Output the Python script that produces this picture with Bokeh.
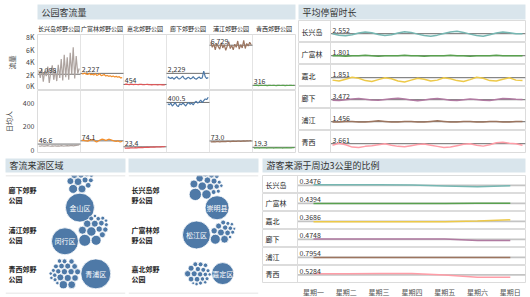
import math
from bokeh.plotting import figure
from bokeh.layouts import row, column
from bokeh.models import Range1d, Label, LinearAxis, FixedTicker, Grid, Span
from bokeh.core.properties import value
from bokeh.embed import file_html
from bokeh.resources import INLINE

# ---------------- data ----------------
parks = ["长兴岛郊野公园", "广富林郊野公园", "嘉北郊野公园", "廊下郊野公园", "浦江郊野公园", "青西郊野公园"]
short_names = ["长兴岛", "广富林", "嘉北", "廊下", "浦江", "青西"]

flow_chx = [2700, 1500, 3000, 900, 2600, 1800, 3300, 700, 2400, 3500, 1200, 2800, 1000, 3600,
            1500, 4500, 1100, 5200, 1600, 4800, 1200, 5500, 2000, 6400, 1400, 5000, 2200, 3000]
flow_gfl = [2200, 2150, 2300, 2100, 2050, 2250, 2000, 2100, 1950, 2200, 1900, 2000, 2150, 1850,
            1950, 2050, 1800, 1900, 1750, 1850, 1700, 1800, 1650, 1750, 1600, 1700, 1500, 1550]
flow_jb = [480, 520, 460, 430, 500, 470, 440, 490, 450, 420, 460, 480, 430, 410,
           450, 470, 420, 440, 400, 430, 450, 410, 390, 420, 440, 400, 380, 410]
flow_lx = [1700, 1500, 1400, 1600, 1300, 1500, 1700, 1400, 1350, 1550, 1800, 1400, 1300, 1500,
           1600, 1350, 1450, 1700, 1400, 1300, 1500, 1650, 1400, 1500, 2600, 1700, 1400, 1550]
flow_pj = [7200, 6400, 6900, 6000, 7000, 6500, 6100, 7100, 6300, 6800, 5900, 6600, 7300, 6200,
           6700, 6000, 6900, 6400, 7400, 6100, 6800, 6300, 7500, 6200, 7000, 6600, 7200, 6800]
flow_qx = [320, 300, 340, 280, 310, 330, 290, 300, 320, 280, 310, 300, 290, 330,
           300, 280, 310, 320, 290, 300, 310, 280, 300, 290, 310, 300, 290, 300]
flow_labels = [2088, 2227, 454, 2229, 6729, 316]
flow_ticks = [0, 2000, 4000, 6000, 8000]
flow_tick_labels = ["0K", "2K", "4K", "6K", "8K"]

daily_chx = [30, 28, 32, 30, 29, 31, 33, 30, 28, 31, 30, 32, 29, 31,
             30, 33, 31, 30, 32, 34, 31, 33, 35, 32, 34, 36, 38, 40]
daily_gfl = [78, 80, 76, 74, 72, 78, 82, 85, 80, 70, 65, 72, 80, 86,
             88, 84, 78, 82, 88, 85, 80, 76, 72, 70, 74, 68, 66, 70]
daily_jb = [12, 11, 13, 12, 14, 15, 13, 16, 15, 17, 16, 18, 17, 19,
            18, 20, 19, 21, 20, 22, 21, 23, 22, 24, 23, 25, 24, 26]
daily_lx = [390, 380, 395, 370, 385, 400, 375, 365, 390, 380, 395, 385, 370, 390,
            400, 385, 395, 380, 400, 410, 395, 405, 420, 400, 415, 430, 425, 445]
daily_pj = [66, 65, 67, 66, 68, 67, 66, 68, 69, 67, 68, 70, 69, 68,
            70, 71, 69, 70, 72, 71, 70, 72, 73, 72, 74, 73, 75, 76]
daily_qx = [14, 13, 15, 14, 13, 15, 14, 16, 14, 13, 15, 14, 15, 13,
            14, 16, 15, 14, 15, 13, 14, 15, 16, 14, 15, 14, 16, 17]
daily_labels = [46.6, 74.1, 23.4, 400.5, 73.0, 19.3]
daily_ticks = [0, 200, 400]

stay_chx = [2.55, 2.51, 2.49, 2.52, 2.57, 2.60, 2.58, 2.53, 2.50, 2.52, 2.57, 2.61, 2.59, 2.54, 2.50,
            2.48, 2.51, 2.56, 2.60, 2.62, 2.59, 2.54, 2.50, 2.48, 2.52, 2.57, 2.60, 2.58, 2.55, 2.55]
stay_gfl = [1.80, 1.80, 1.79, 1.80, 1.80, 1.81, 1.80, 1.79, 1.80, 1.80, 1.80, 1.81, 1.80, 1.80, 1.79,
            1.80, 1.80, 1.80, 1.81, 1.80, 1.80, 1.79, 1.80, 1.80, 1.80, 1.81, 1.80, 1.80, 1.80, 1.80]
stay_jb = [1.80, 1.78, 1.82, 1.86, 1.84, 1.79, 1.77, 1.81, 1.85, 1.83, 1.78, 1.76, 1.80, 1.84, 1.82,
           1.78, 1.80, 1.85, 1.83, 1.79, 1.77, 1.81, 1.86, 1.84, 1.79, 1.78, 1.82, 1.85, 1.80, 1.79]
stay_lx = [3.45, 3.44, 3.47, 3.50, 3.52, 3.49, 3.46, 3.45, 3.48, 3.51, 3.53, 3.50, 3.46, 3.43, 3.46,
           3.50, 3.52, 3.49, 3.45, 3.44, 3.47, 3.50, 3.48, 3.45, 3.44, 3.48, 3.52, 3.51, 3.49, 3.48]
stay_pj = [1.45, 1.45, 1.46, 1.46, 1.45, 1.45, 1.46, 1.47, 1.46, 1.45, 1.45, 1.46, 1.46, 1.45, 1.45,
           1.46, 1.47, 1.46, 1.45, 1.45, 1.46, 1.46, 1.45, 1.45, 1.46, 1.46, 1.45, 1.45, 1.46, 1.46]
stay_qx = [3.60, 3.68, 3.62, 3.52, 3.50, 3.55, 3.58, 3.62, 3.66, 3.60, 3.55, 3.53, 3.58, 3.63, 3.65,
           3.60, 3.55, 3.50, 3.52, 3.58, 3.64, 3.66, 3.60, 3.56, 3.62, 3.70, 3.72, 3.68, 3.66, 3.60]
stay_labels = [2.552, 1.801, 1.851, 3.472, 1.456, 3.661]

weekdays = ["星期一", "星期二", "星期三", "星期四", "星期五", "星期六", "星期日"]
ratio_chx = [0.3476, 0.3470, 0.3468, 0.3455, 0.3390, 0.3330, 0.3400]
ratio_gfl = [0.4394, 0.4396, 0.4398, 0.4400, 0.4402, 0.4404, 0.4405]
ratio_jb = [0.3686, 0.3688, 0.3690, 0.3692, 0.3700, 0.3760, 0.3840]
ratio_lx = [0.4748, 0.4746, 0.4744, 0.4740, 0.4730, 0.4600, 0.4590]
ratio_pj = [0.7954, 0.7950, 0.7952, 0.7948, 0.7951, 0.7953, 0.7950]
ratio_qx = [0.5284, 0.5270, 0.5300, 0.5320, 0.5150, 0.4900, 0.4880]

bubble_parks_left = ["廊下郊野公园", "浦江郊野公园", "青西郊野公园"]
bubble_parks_right = ["长兴岛郊野公园", "广富林郊野公园", "嘉北郊野公园"]
main_district_left = ["金山区", "闵行区", "青浦区"]
main_district_right = ["崇明县", "松江区", "嘉定区"]
main_visitors_left = [2100, 1820, 2250]
main_visitors_right = [1440, 1960, 1210]
other_visitors_left = [
    [200, 160, 150, 120, 110, 90, 90, 80, 60, 60, 50, 40, 40, 30],
    [360, 250, 220, 160, 140, 120, 100, 90, 80, 70, 60, 50, 40, 40, 30, 30],
    [170, 150, 130, 120, 110, 100, 100, 90, 90, 80, 80, 70, 70, 60, 60, 50, 50, 40, 40, 30, 30, 30],
]
other_visitors_right = [
    [380, 220, 180, 160, 140, 120, 110, 100, 90, 80, 70, 60, 50, 40, 40, 30],
    [250, 150, 120, 100, 90, 80, 70, 60, 50, 40, 40, 30, 30, 20],
    [100, 90, 90, 80, 80, 70, 70, 60, 60, 60, 50, 50, 50, 40, 40, 40, 30, 30, 30, 20],
]

# ---------------- style ----------------
FONT = "Noto Sans CJK SC"
HEADER_BG = "#D9E5EC"
BORDER = "#DCDCDC"
TEXT = "#333333"
P1_COLORS = ["#ADA39F", "#F28E2B", "#E15759", "#4E79A7", "#9C755F", "#59A14F"]
P2_COLORS = ["#76B7B2", "#59A14F", "#EDC948", "#B07AA1", "#9C755F", "#FF9DA7"]
BUBBLE = "#4E79A7"
# direction (degrees) from the main bubble towards the cluster of smaller bubbles
cluster_side_left = [90, 20, 180]
cluster_side_right = [120, 5, 180]


def bare(w, h, xr, yr, ml=0, mr=0, mt=0, mb=0):
    p = figure(width=w, height=h, x_range=xr, y_range=yr, output_backend="svg",
               toolbar_location=None, x_axis_location=None, y_axis_location=None,
               title=None, min_border=0, min_border_left=ml, min_border_right=mr,
               min_border_top=mt, min_border_bottom=mb)
    p.grid.visible = False
    p.outline_line_color = None
    p.background_fill_color = "white"
    p.border_fill_color = "white"
    return p


def header(w, text, ml, mr, mt, mb, band):
    p = bare(w, mt + band + mb, Range1d(0, 1), Range1d(0, 1), ml, mr, mt, mb)
    p.background_fill_color = HEADER_BG
    if text:
        p.add_layout(Label(x=0, y=0.5, text=text, x_offset=4, text_align="left",
                           text_baseline="middle", text_font=FONT, text_font_size="9px",
                           text_color=TEXT))
    return p


def style_axis(ax, size="7px", color="#444444"):
    ax.axis_line_color = None
    ax.major_tick_line_color = None
    ax.minor_tick_line_color = None
    ax.major_tick_in = 0
    ax.major_tick_out = 0
    ax.minor_tick_in = 0
    ax.minor_tick_out = 0
    ax.major_label_text_font = FONT
    ax.major_label_text_font_size = size
    ax.major_label_text_color = color
    ax.axis_label_text_font = FONT
    ax.axis_label_text_font_size = size
    ax.axis_label_text_font_style = "normal"
    ax.axis_label_text_color = color
    ax.major_label_standoff = 3
    ax.axis_label_standoff = 6


def txt(p, x, y, s, size="7px", color=TEXT, align="left", baseline="bottom", xo=0, yo=0,
        style="normal"):
    p.text(x=x, y=y, text=s, text_font=value(FONT), text_font_size=size, text_color=color,
           text_align=align, text_baseline=baseline, x_offset=xo, y_offset=yo,
           text_font_style=style)


# ---------------- panel 1: 公园客流量 ----------------
P1W = 297
h1 = header(P1W, "公园客流量", 3, 2, 4, 1, 15)


def col_positions(i, n):
    return [i + 0.03 + 0.94 * j / (n - 1) for j in range(n)]


def small_multiples(p, series, labels, fmt):
    n_cols = len(series)
    p.add_layout(Grid(dimension=0, ticker=FixedTicker(ticks=list(range(1, n_cols))),
                      grid_line_color="#E4E4E4"))
    for i, (vals, lab) in enumerate(zip(series, labels)):
        p.segment(x0=[i], y0=[lab], x1=[i + 1], y1=[lab], line_color="#707070", line_width=1)
        p.line(col_positions(i, len(vals)), vals, line_color=P1_COLORS[i], line_width=1.2)
        txt(p, [i + 0.03], [lab], [fmt(lab)], yo=-1)
    p.outline_line_color = BORDER


f1 = bare(P1W, 70, Range1d(0, len(parks)), Range1d(-510, 8440), ml=32, mr=2, mt=9, mb=0)
small_multiples(f1, [flow_chx, flow_gfl, flow_jb, flow_lx, flow_pj, flow_qx], flow_labels,
                lambda v: f"{v:,.0f}")
ax = LinearAxis(ticker=FixedTicker(ticks=flow_ticks),
                major_label_overrides={t: l for t, l in zip(flow_ticks, flow_tick_labels)},
                axis_label="流量")
style_axis(ax)
f1.add_layout(ax, "left")
top_ax = LinearAxis(ticker=FixedTicker(ticks=[i + 0.5 for i in range(len(parks))]),
                    major_label_overrides={i + 0.5: n for i, n in enumerate(parks)})
style_axis(top_ax, size="6px", color="#222222")
top_ax.major_label_standoff = 2
f1.add_layout(top_ax, "above")

f2 = bare(P1W, 65, Range1d(0, len(parks)), Range1d(-25, 502), ml=32, mr=2, mt=0, mb=3)
small_multiples(f2, [daily_chx, daily_gfl, daily_jb, daily_lx, daily_pj, daily_qx], daily_labels,
                lambda v: f"{v:.1f}")
ax2 = LinearAxis(ticker=FixedTicker(ticks=daily_ticks),
                 major_label_overrides={t: str(t) for t in daily_ticks}, axis_label="日均人")
style_axis(ax2)
f2.add_layout(ax2, "left")

panel1 = column(h1, f1, f2)

# ---------------- panel 2: 平均停留时长 ----------------
P2W = 233
h2 = header(P2W, "平均停留时长", 1, 5, 4, 1, 15)
stay_series = [stay_chx, stay_gfl, stay_jb, stay_lx, stay_pj, stay_qx]
N2 = len(stay_chx)
FR_L, FIRST, LAST, FR_R, SEP = 298, 332, 522, 525, 330
dx2 = (LAST - FIRST) / (N2 - 1)
x2s, x2e, x2sep = -(FIRST - FR_L) / dx2, (N2 - 1) + (FR_R - LAST) / dx2, -(FIRST - SEP) / dx2
p2_rows = []
for k, (vals, lab) in enumerate(zip(stay_series, stay_labels)):
    last = k == len(stay_series) - 1
    S = 0.25 * lab
    yr = Range1d(lab - 0.4 * S, lab + 0.6 * S)
    p = bare(P2W, 25 if last else 22, Range1d(x2s, x2e), yr, ml=1, mr=5, mt=0, mb=3 if last else 0)
    p.outline_line_color = BORDER
    p.add_layout(Span(location=x2sep, dimension="height", line_color=BORDER, line_width=1))
    p.segment(x0=[x2sep], y0=[lab], x1=[x2e], y1=[lab], line_color="#6B6B6B", line_width=1)
    p.line(list(range(N2)), vals, line_color=P2_COLORS[k], line_width=1.5)
    txt(p, [0], [lab], [f"{lab:.3f}"], yo=-1)
    txt(p, [x2s], [(yr.start + yr.end) / 2], [short_names[k]], baseline="middle", xo=3,
        color="#222222")
    p2_rows.append(p)
panel2 = column(h2, *p2_rows)

top_row = row(panel1, panel2)

# ---------------- panel 3: 客流来源区域 ----------------
GAP = 0.35
BUBBLE_SCALE = 0.316


def pack_cluster(radii):
    """Greedy packing of circles around the centroid of those already placed."""
    if not radii:
        return []
    pos = [(0.0, 0.0)]
    if len(radii) > 1:
        pos.append((radii[0] + radii[1] + GAP, 0.0))
    for i in range(2, len(radii)):
        r = radii[i]
        sx = sum(q[0] for q in pos) / len(pos)
        sy = sum(q[1] for q in pos) / len(pos)
        best, bd = None, 1e18
        for ai in range(len(pos)):
            for bi in range(ai + 1, len(pos)):
                (xa, ya), (xb, yb) = pos[ai], pos[bi]
                da, db = radii[ai] + r + GAP, radii[bi] + r + GAP
                ddx, ddy = xb - xa, yb - ya
                d = math.hypot(ddx, ddy)
                if d == 0 or d > da + db or d < abs(da - db):
                    continue
                aa = (da * da - db * db + d * d) / (2 * d)
                hh = math.sqrt(max(da * da - aa * aa, 0))
                px, py = xa + aa * ddx / d, ya + aa * ddy / d
                for sgn in (1, -1):
                    cx, cy = px - sgn * hh * ddy / d, py + sgn * hh * ddx / d
                    ok = all(math.hypot(cx - pos[m][0], cy - pos[m][1]) >= radii[m] + r + GAP - 1e-6
                             for m in range(len(pos)))
                    if ok:
                        dd = (cx - sx) ** 2 + (cy - sy) ** 2
                        if dd < bd:
                            bd, best = dd, (cx, cy)
        pos.append(best)
    return pos


def place_main(R, cluster_pos, cluster_r, angle_deg):
    """Put the main bubble against the cluster, on the side opposite to angle_deg."""
    ux, uy = math.cos(math.radians(angle_deg)), math.sin(math.radians(angle_deg))
    cx = sum(q[0] * r * r for q, r in zip(cluster_pos, cluster_r)) / sum(r * r for r in cluster_r)
    cy = sum(q[1] * r * r for q, r in zip(cluster_pos, cluster_r)) / sum(r * r for r in cluster_r)
    t_best = 0.0
    for (sx, sy), rs in zip(cluster_pos, cluster_r):
        wx, wy = cx - sx, cy - sy
        wu = wx * ux + wy * uy
        D = R + rs + GAP
        disc = wu * wu - (wx * wx + wy * wy) + D * D
        if disc >= 0:
            t_best = max(t_best, wu + math.sqrt(disc))
    return (cx - t_best * ux, cy - t_best * uy)


def bubble_panel(w, ml, mr, names, mains, main_vals, others, sides):
    W, H = w - ml - mr, 118
    p = bare(w, 124, Range1d(0, W), Range1d(0, H), ml=ml, mr=mr, mt=0, mb=6)
    p.add_layout(Span(location=H, dimension="width", line_color=BORDER, line_width=1.5))
    p.add_layout(Span(location=0, dimension="width", line_color=BORDER, line_width=1.5))
    cell_h = H / len(names)
    for k in range(len(names)):
        R = BUBBLE_SCALE * math.sqrt(main_vals[k])
        small_r = [BUBBLE_SCALE * math.sqrt(v) for v in others[k]]
        cpos = pack_cluster(small_r)
        mpos = place_main(R, cpos, small_r, sides[k])
        pos = [mpos] + cpos
        radii = [R] + small_r
        minx = min(q[0] - r for q, r in zip(pos, radii))
        maxx = max(q[0] + r for q, r in zip(pos, radii))
        miny = min(q[1] - r for q, r in zip(pos, radii))
        maxy = max(q[1] + r for q, r in zip(pos, radii))
        cx, cy = 0.62 * W, H - (k + 0.5) * cell_h
        ox, oy = cx - (minx + maxx) / 2, cy - (miny + maxy) / 2
        xs = [q[0] + ox for q in pos]
        ys = [q[1] + oy for q in pos]
        p.circle(x=xs, y=ys, radius=radii, fill_color=BUBBLE, line_color="white", line_width=0.8)
        txt(p, [xs[0]], [ys[0]], [mains[k]], color="white", align="center", baseline="middle")
        nm = names[k]
        txt(p, [3, 3], [cy, cy], [nm[:4], nm[4:]], baseline="middle", yo=[-5, 5],
            color="#222222", style="bold")
    return p


h3a = header(126, "客流来源区域", 5, 1, 3, 3, 14)
h3b = header(135, "", 2, 3, 3, 3, 14)
b1 = bubble_panel(126, 5, 1, bubble_parks_left, main_district_left, main_visitors_left,
                  other_visitors_left, cluster_side_left)
b2 = bubble_panel(135, 2, 3, bubble_parks_right, main_district_right, main_visitors_right,
                  other_visitors_right, cluster_side_right)
panel3 = row(column(h3a, b1), column(h3b, b2))

# ---------------- panel 4: 周边3公里比例 ----------------
P4W = 269
h4 = header(P4W, "游客来源于周边3公里的比例", 1, 5, 3, 3, 14)
ratio_series = [ratio_chx, ratio_gfl, ratio_jb, ratio_lx, ratio_pj, ratio_qx]
F4L, D0, STEP, F4R, SEP4 = 262, 313, 32.8, 525, 297
x4s = -(D0 - F4L) / STEP
x4e = (len(weekdays) - 1) + (F4R - (D0 + 6 * STEP)) / STEP
x4sep = -(D0 - SEP4) / STEP
p4_rows = []
for k, vals in enumerate(ratio_series):
    last = k == len(ratio_series) - 1
    mean = sum(vals) / len(vals)
    S = 0.37 * mean
    yr = Range1d(mean - 0.45 * S, mean + 0.55 * S)
    p = bare(P4W, 34 if last else 18, Range1d(x4s, x4e), yr, ml=1, mr=5, mt=0, mb=16 if last else 0)
    p.outline_line_color = BORDER
    p.add_layout(Span(location=x4sep, dimension="height", line_color=BORDER, line_width=1))
    p.segment(x0=[x4sep], y0=[mean], x1=[x4e], y1=[mean], line_color="#C4C4C4", line_width=1.6)
    p.line(list(range(len(vals))), vals, line_color=P2_COLORS[k], line_width=1.5)
    txt(p, [x4sep], [mean], [f"{vals[0]:.4f}"], xo=2, yo=-1)
    txt(p, [x4s], [(yr.start + yr.end) / 2], [short_names[k]], baseline="middle", xo=3,
        color="#222222")
    if last:
        xa = LinearAxis(ticker=FixedTicker(ticks=list(range(len(weekdays)))),
                        major_label_overrides={i: d for i, d in enumerate(weekdays)})
        style_axis(xa, color="#555555")
        xa.major_label_standoff = 4
        p.add_layout(xa, "below")
    p4_rows.append(p)
panel4 = column(h4, *p4_rows)

bottom_row = row(panel3, panel4)
layout = column(top_row, bottom_row)

open("out.html", "w").write(file_html(layout, INLINE))
